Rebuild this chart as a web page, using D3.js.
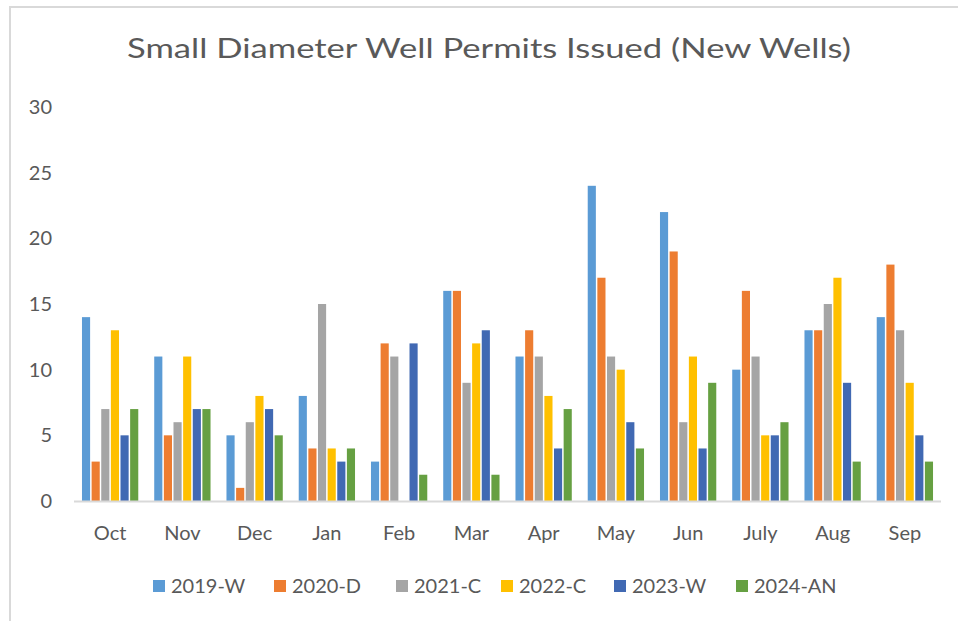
<!DOCTYPE html>
<html>
<head>
<meta charset="utf-8">
<script src="https://cdn.jsdelivr.net/npm/d3@7"></script>
<style>
  html, body { margin: 0; padding: 0; background: #fff; }
  svg { display: block; font-family: Lato, "Open Sans", sans-serif; }
</style>
</head>
<body>
<svg id="chart" width="958" height="621"></svg>
<script>
const title = "Small Diameter Well Permits Issued (New Wells)";
const months = ["Oct","Nov","Dec","Jan","Feb","Mar","Apr","May","Jun","July","Aug","Sep"];
const seriesNames = ["2019-W","2020-D","2021-C","2022-C","2023-W","2024-AN"];
const s2019W  = [14,11,5,8,3,16,11,24,22,10,13,14];
const s2020D  = [3,5,1,4,12,16,13,17,19,16,13,18];
const s2021C  = [7,6,6,15,11,9,11,11,6,11,15,13];
const s2022C  = [13,11,8,4,0,12,8,10,11,5,17,9];
const s2023W  = [5,7,7,3,12,13,4,6,4,5,9,5];
const s2024AN = [7,7,5,4,2,2,7,4,9,6,3,3];
const yTicks = [0,5,10,15,20,25,30];
const colors = ["#5B9BD5","#ED7D31","#A5A5A5","#FFC000","#4169B3","#66A042"];

const seriesValues = [s2019W, s2020D, s2021C, s2022C, s2023W, s2024AN];

const svg = d3.select("#chart");

// chart frame (light border top and left)
svg.append("line").attr("x1", 10).attr("x2", 958).attr("y1", 7).attr("y2", 7)
  .attr("stroke", "#d9d9d9").attr("stroke-width", 2);
svg.append("line").attr("x1", 10).attr("x2", 10).attr("y1", 6).attr("y2", 621)
  .attr("stroke", "#d9d9d9").attr("stroke-width", 2);

// title
svg.append("text")
  .attr("x", 489).attr("y", 58)
  .attr("text-anchor", "middle")
  .attr("fill", "#595959")
  .attr("font-size", 26)
  .attr("textLength", 724)
  .attr("lengthAdjust", "spacingAndGlyphs")
  .text(title);

const x0 = d3.scaleBand().domain(months).range([74, 941]).paddingInner(1.5/7.5).paddingOuter(0.75/7.5);
const x1 = d3.scaleBand().domain(seriesNames).range([0, x0.bandwidth()]);
const y = d3.scaleLinear().domain([0, 30]).range([501, 107]);

// y tick labels
svg.append("g").selectAll("text").data(yTicks).join("text")
  .attr("x", 52).attr("y", d => y(d)).attr("dy", "0.35em")
  .attr("text-anchor", "end").attr("fill", "#595959").attr("font-size", 20)
  .text(d => d);

// bars
const groups = svg.append("g").selectAll("g").data(months).join("g")
  .attr("transform", d => `translate(${x0(d)},0)`);
groups.selectAll("rect")
  .data((m, i) => seriesNames.map((s, j) => ({s, j, v: seriesValues[j][i]})))
  .join("rect")
  .filter(d => d.v > 0)
  .attr("x", d => x1(d.s) + 0.75)
  .attr("width", x1.bandwidth() - 1.5)
  .attr("y", d => y(d.v))
  .attr("height", d => y(0) - y(d.v))
  .attr("fill", d => colors[d.j]);

// x axis line
svg.append("line").attr("x1", 74).attr("x2", 941).attr("y1", 501.5).attr("y2", 501.5)
  .attr("stroke", "#d9d9d9").attr("stroke-width", 2);

// x labels
svg.append("g").selectAll("text").data(months).join("text")
  .attr("x", d => x0(d) + x0.bandwidth() / 2).attr("y", 533).attr("dy", "0.35em")
  .attr("text-anchor", "middle").attr("fill", "#595959").attr("font-size", 20)
  .text(d => d);

// legend
const legendX = [153, 274, 396, 501, 614, 736];
const lg = svg.append("g").selectAll("g").data(seriesNames).join("g")
  .attr("transform", (d, i) => `translate(${legendX[i]},586)`);
lg.append("rect").attr("x", 0).attr("y", -6).attr("width", 12).attr("height", 12)
  .attr("fill", (d, i) => colors[i]);
lg.append("text").attr("x", 18).attr("y", 0).attr("dy", "0.35em")
  .attr("fill", "#595959").attr("font-size", 20).text(d => d);
</script>
</body>
</html>
